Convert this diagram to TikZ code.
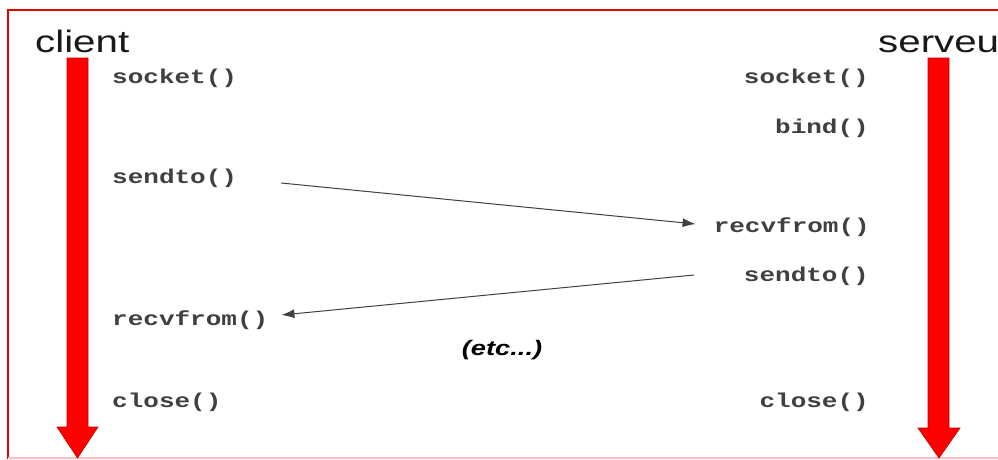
\documentclass[tikz,border=0pt]{standalone}
\usepackage{graphicx}
\usepackage{fontspec}
\setmainfont{Liberation Sans}
\newfontfamily\monof{Liberation Mono}
\usetikzlibrary{arrows.meta,calc}
\newcommand\hstretch[1]{\scalebox{1.3}[1]{#1}}
\begin{document}
\begin{tikzpicture}[x=1pt,y=-1pt,
 fn/.style={inner sep=0pt,font=\monof\bfseries\fontsize{20}{20}\selectfont,text=black!75},
 party/.style={inner sep=0pt,font=\fontsize{31}{31}\selectfont,text=black!90},
 lifeline/.style={fill=red,draw=red!75!black,line width=0.6pt},
 msg/.style={draw=black!75,line width=1pt,-{Latex[length=13pt,width=9pt]}},
 frame/.style={draw=red!90!black,line width=2pt}]
\useasboundingbox (0,0) rectangle (998,459);
\fill[white] (0,0) rectangle (998,459);
% frame
\draw[frame] (8,459) -- (8,10) -- (998,10);
\draw[red!25,line width=1.5pt] (8,458) -- (998,458);
% parties
\node[party,anchor=base west] (client) at (35,52) {\hstretch{client}};
\node[party,anchor=base west] (server) at (878,52) {\hstretch{serveu}};
% lifelines
\draw[lifeline] (67,58) -- (88,58) -- (88,427) -- (98,427) -- (77.5,458) -- (57,427) -- (67,427) -- cycle;
\draw[lifeline] (928,58) -- (949,58) -- (949,428) -- (960,428) -- (939,458) -- (918,428) -- (928,428) -- cycle;
% client calls
\node[fn,anchor=west] (csock) at (112,78) {\hstretch{socket()}};
\node[fn,anchor=west] (csend) at (112,178) {\hstretch{sendto()}};
\node[fn,anchor=west] (crecv) at (112,320) {\hstretch{recvfrom()}};
\node[fn,anchor=west] (cclose) at (112,402) {\hstretch{close()}};
% server calls
\node[fn,anchor=east] (ssock) at (869,78) {\hstretch{socket()}};
\node[fn,anchor=east] (sbind) at (869,128) {\hstretch{bind()}};
\node[fn,anchor=east] (srecv) at (870,227) {\hstretch{recvfrom()}};
\node[fn,anchor=east] (ssend) at (869,276) {\hstretch{sendto()}};
\node[fn,anchor=east] (sclose) at (869,402) {\hstretch{close()}};
% etc
\node[inner sep=0pt,font=\bfseries\itshape\fontsize{21}{21}\selectfont] (etc) at (502,350) {\hstretch{(etc...)}};
% messages
\draw[msg] ([xshift=44pt,yshift=-5pt]csend.east) -- ([xshift=-18pt,yshift=3pt]srecv.west);
\draw[msg] ([xshift=-50pt,yshift=1pt]ssend.west) -- ([xshift=13pt,yshift=5pt]crecv.east);
\end{tikzpicture}
\end{document}
